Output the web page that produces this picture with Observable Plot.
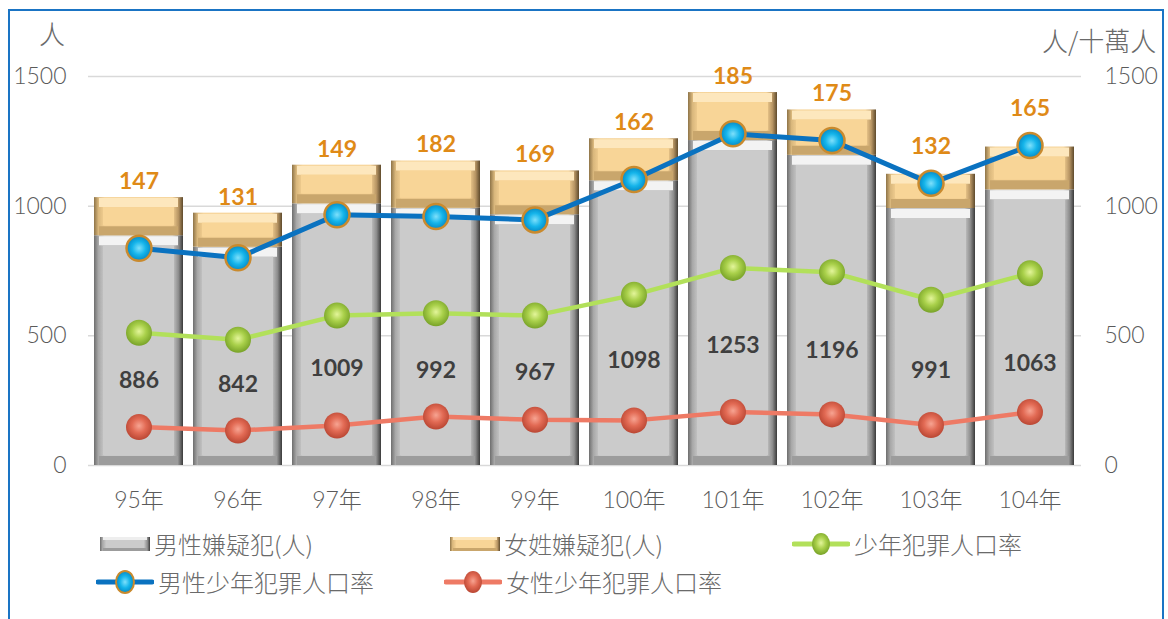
<!DOCTYPE html>
<html>
<head>
<meta charset="utf-8">
<script src="https://cdn.jsdelivr.net/npm/d3@7"></script>
<script src="https://cdn.jsdelivr.net/npm/@observablehq/plot@0.6"></script>
<style>
  html, body { margin: 0; padding: 0; background: #fff; }
  body { position: relative; width: 1168px; height: 619px; overflow: hidden;
         font-family: Lato, "Noto Sans CJK TC", sans-serif; color: #595959; }
  #frame { position: absolute; left: 8px; top: 9px; width: 1156px; height: 640px;
           border: 2px solid #1a74c4; box-sizing: border-box; pointer-events: none; }
  #chart { position: absolute; left: 0; top: 0; }
  .unit { position: absolute; font-size: 26px; color: #6a6a6a; font-family: "Noto Sans CJK TC", sans-serif; font-weight: 300; line-height: 1; }
  .leg { position: absolute; display: flex; align-items: center; font-size: 24px; color: #6a6a6a;
         font-family: "Noto Sans CJK TC", sans-serif; font-weight: 300; line-height: 1; white-space: nowrap; }
  .leg svg { display: block; margin-right: 4px; }
</style>
</head>
<body>
<div id="chart"></div>
<div class="unit" style="left:39px; top:20px;">人</div>
<div class="unit" style="left:1042px; top:27px;">人/十萬人</div>
<div id="legend"></div>
<div id="frame"></div>
<script>
// ---- data ----
const years = ["95年","96年","97年","98年","99年","100年","101年","102年","103年","104年"];
const maleSuspects   = [886, 842, 1009, 992, 967, 1098, 1253, 1196, 991, 1063];
const femaleSuspects = [147, 131, 149, 182, 169, 162, 185, 175, 132, 165];
const youthRate      = [512, 485, 578, 587, 578, 658, 762, 745, 639, 741];
const maleYouthRate  = [838, 801, 967, 960, 947, 1103, 1279, 1253, 1088, 1234];
const femaleYouthRate= [148, 135, 154, 189, 176, 174, 206, 197, 156, 206];
const yTicks = [0, 500, 1000, 1500];
const seriesNames = ["男性嫌疑犯(人)", "女姓嫌疑犯(人)", "少年犯罪人口率", "男性少年犯罪人口率", "女性少年犯罪人口率"];

const rows = years.map((y, i) => ({
  year: y, male: maleSuspects[i], female: femaleSuspects[i], total: maleSuspects[i] + femaleSuspects[i],
  youth: youthRate[i], maleRate: maleYouthRate[i], femaleRate: femaleYouthRate[i]
}));

const numFont = "Lato, 'DejaVu Sans', sans-serif";

const chart = Plot.plot({
  width: 1168,
  height: 520,
  marginLeft: 88,
  marginRight: 87,
  marginTop: 76,
  marginBottom: 55,
  style: { fontFamily: "Lato, 'Noto Sans CJK TC', sans-serif", background: "transparent", color: "#595959" },
  x: { domain: years, paddingInner: 0.1, paddingOuter: 0.05, label: null },
  y: { domain: [0, 1500], label: null },
  marks: [
    Plot.gridY(yTicks, { stroke: "#d9d9d9", strokeOpacity: 1, strokeWidth: 1.5 }),
    Plot.axisY(yTicks, { anchor: "left", tickSize: 0, tickPadding: 22, fontSize: 23, fontWeight: 300, color: "#5a5a5a", label: null, tickFormat: d => String(d) }),
    Plot.axisY(yTicks, { anchor: "right", tickSize: 0, tickPadding: 23, fontSize: 23, fontWeight: 300, color: "#5a5a5a", label: null, tickFormat: d => String(d) }),
    Plot.axisX({ tickSize: 0, tickPadding: 26, fontSize: 23, fontWeight: 300, color: "#5a5a5a", label: null }),
    // male bars (bevelled)
    Plot.barY(rows, { x: "year", y1: 0, y2: "male", fill: "url(#gMaleOuter)" }),
    Plot.tickY(rows, { x: "year", y: "male", dy: 5, strokeWidth: 9, stroke: "#f3f3f3", insetLeft: 5, insetRight: 5 }),
    Plot.tickY(rows, { x: "year", y: 0, dy: -5, strokeWidth: 9, stroke: "#9c9c9c", insetLeft: 5, insetRight: 5 }),
    Plot.barY(rows, { x: "year", y1: 0, y2: "male", fill: "#cbcbcb", insetLeft: 9, insetRight: 9, insetTop: 10, insetBottom: 10 }),
    // female bars (bevelled)
    Plot.barY(rows, { x: "year", y1: "male", y2: "total", fill: "url(#gFemOuter)" }),
    Plot.tickY(rows, { x: "year", y: "total", dy: 5, strokeWidth: 9, stroke: "#fde7bd", insetLeft: 5, insetRight: 5 }),
    Plot.tickY(rows, { x: "year", y: "male", dy: -5, strokeWidth: 9, stroke: "#c9a66c", insetLeft: 5, insetRight: 5 }),
    Plot.barY(rows, { x: "year", y1: "male", y2: "total", fill: "#f8d597", insetLeft: 9, insetRight: 9, insetTop: 10, insetBottom: 10 }),
    // labels
    Plot.text(rows, { x: "year", y: d => d.male * 0.37, text: d => String(d.male), fill: "#3f3f3f", fontSize: 23, fontWeight: "bold", fontFamily: numFont }),
    Plot.text(rows, { x: "year", y: d => Math.max(d.total, d.maleRate + 80), text: d => String(d.female), dy: -16, fill: "#df8a17", fontSize: 23, fontWeight: "bold", fontFamily: numFont }),
    // lines
    Plot.line(rows, { x: "year", y: "femaleRate", stroke: "#ee7a65", strokeWidth: 4.5 }),
    Plot.dot(rows, { x: "year", y: "femaleRate", r: 13, fill: "url(#rRed)", stroke: "none" }),
    Plot.line(rows, { x: "year", y: "youth", stroke: "#b2e05a", strokeWidth: 4.5 }),
    Plot.dot(rows, { x: "year", y: "youth", r: 13, fill: "url(#rGreen)", stroke: "none" }),
    Plot.line(rows, { x: "year", y: "maleRate", stroke: "#0a72c0", strokeWidth: 5 }),
    Plot.dot(rows, { x: "year", y: "maleRate", r: 12.5, fill: "url(#rBlue)", stroke: "#c98a2e", strokeWidth: 2.5 })
  ]
});

const defsHTML = `
  <linearGradient id="gMaleOuter" x1="0" x2="1" y1="0" y2="0">
    <stop offset="0" stop-color="#6e6e6e"/><stop offset="0.05" stop-color="#a8a8a8"/>
    <stop offset="0.12" stop-color="#c9c9c9"/><stop offset="0.88" stop-color="#c9c9c9"/>
    <stop offset="0.95" stop-color="#8c8c8c"/><stop offset="1" stop-color="#3a3a3a"/>
  </linearGradient>
  <linearGradient id="gFemOuter" x1="0" x2="1" y1="0" y2="0">
    <stop offset="0" stop-color="#8e7448"/><stop offset="0.05" stop-color="#d9b77c"/>
    <stop offset="0.12" stop-color="#f5d193"/><stop offset="0.88" stop-color="#f5d193"/>
    <stop offset="0.95" stop-color="#b69463"/><stop offset="1" stop-color="#5e4a2c"/>
  </linearGradient>
  <radialGradient id="rBlue" cx="0.5" cy="0.5" r="0.6">
    <stop offset="0" stop-color="#7ee0fb"/><stop offset="0.45" stop-color="#14b4ea"/><stop offset="1" stop-color="#0076b4"/>
  </radialGradient>
  <radialGradient id="rGreen" cx="0.5" cy="0.45" r="0.6">
    <stop offset="0" stop-color="#e3f59a"/><stop offset="0.45" stop-color="#a9d04a"/><stop offset="1" stop-color="#6f9a22"/>
  </radialGradient>
  <radialGradient id="rRed" cx="0.5" cy="0.45" r="0.6">
    <stop offset="0" stop-color="#f7a492"/><stop offset="0.45" stop-color="#e26a54"/><stop offset="1" stop-color="#b2402d"/>
  </radialGradient>`;

const defs = document.createElementNS("http://www.w3.org/2000/svg", "defs");
defs.innerHTML = defsHTML;
chart.insertBefore(defs, chart.firstChild);
document.getElementById("chart").appendChild(chart);

// ---- legend ----
function barSwatch(fillId) {
  const male = fillId === "gMaleOuter";
  return `<svg width="50" height="16">
    <rect x="0" y="1" width="50" height="14" fill="url(#${fillId})"/>
    <rect x="3" y="1" width="44" height="3" fill="${male ? '#eeeeee' : '#fde6bb'}"/>
    <rect x="3" y="12" width="44" height="3" fill="${male ? '#9c9c9c' : '#c9a66c'}"/>
    <rect x="6" y="4" width="38" height="8" fill="${male ? '#cbcbcb' : '#f8d597'}"/></svg>`;
}
function lineSwatch(color, grad, stroke) {
  return `<svg width="58" height="26">
    <line x1="2" x2="56" y1="13" y2="13" stroke="${color}" stroke-width="5" stroke-linecap="round"/>
    <ellipse cx="29" cy="13" rx="9" ry="11" fill="url(#${grad})" ${stroke ? `stroke="${stroke}" stroke-width="2"` : ""}/></svg>`;
}
const legendItems = [
  { left: 100, top: 544, sw: barSwatch("gMaleOuter"), label: seriesNames[0] },
  { left: 450, top: 544, sw: barSwatch("gFemOuter"), label: seriesNames[1] },
  { left: 792, top: 544, sw: lineSwatch("#b2e05a", "rGreen"), label: seriesNames[2] },
  { left: 96, top: 582, sw: lineSwatch("#0a72c0", "rBlue", "#c98a2e"), label: seriesNames[3] },
  { left: 444, top: 582, sw: lineSwatch("#ee7a65", "rRed"), label: seriesNames[4] }
];
const legend = document.getElementById("legend");
legendItems.forEach(it => {
  const d = document.createElement("div");
  d.className = "leg";
  d.style.left = it.left + "px";
  d.style.top = (it.top - 13) + "px";
  d.style.height = "26px";
  d.innerHTML = it.sw + `<span>${it.label}</span>`;
  legend.appendChild(d);
});
</script>
</body>
</html>
